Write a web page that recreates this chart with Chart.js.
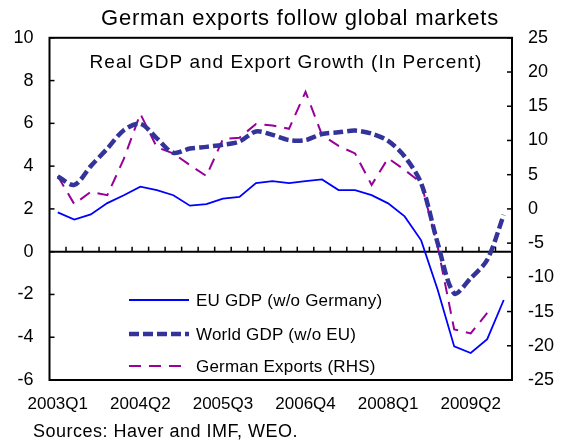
<!DOCTYPE html>
<html>
<head>
<meta charset="utf-8">
<script src="https://cdn.jsdelivr.net/npm/chart.js@4.4.1/dist/chart.umd.min.js"></script>
<style>
  html, body { margin: 0; padding: 0; background: #fff; }
  #wrap { width: 564px; height: 444px; }
</style>
</head>
<body>
<div id="wrap"><canvas id="chart" width="564" height="444"></canvas></div>
<script>
// Quarters 2003Q1 .. 2009Q4
const quarters = [
  "2003Q1", "2003Q2", "2003Q3", "2003Q4",
  "2004Q1", "2004Q2", "2004Q3", "2004Q4",
  "2005Q1", "2005Q2", "2005Q3", "2005Q4",
  "2006Q1", "2006Q2", "2006Q3", "2006Q4",
  "2007Q1", "2007Q2", "2007Q3", "2007Q4",
  "2008Q1", "2008Q2", "2008Q3", "2008Q4",
  "2009Q1", "2009Q2", "2009Q3", "2009Q4"
];
// labels shown under the axis
const shownQuarters = ["2003Q1", "2004Q2", "2005Q3", "2006Q4", "2008Q1", "2009Q2"];

// left axis, percent
const euGdp = [
  1.84, 1.50, 1.74, 2.27, 2.64, 3.04, 2.88, 2.64,
  2.15, 2.22, 2.48, 2.56, 3.21, 3.30, 3.21, 3.30,
  3.38, 2.88, 2.88, 2.64, 2.26, 1.65, 0.53, -1.78,
  -4.43, -4.74, -4.09, -2.26
];
const worldGdp = [
  3.52, 3.12, 4.00, 4.82, 5.68, 5.98, 5.30, 4.62,
  4.82, 4.90, 5.00, 5.15, 5.62, 5.46, 5.22, 5.22,
  5.50, 5.58, 5.66, 5.52, 5.18, 4.45, 3.20, 0.40,
  -1.95, -1.24, -0.38, 1.72
];
// right axis, percent
const germanExports = [
  4.8, 0.7, 2.5, 2.0, 7.3, 13.9, 9.0, 8.1,
  6.4, 4.8, 10.2, 10.4, 12.4, 12.2, 11.7, 17.1,
  10.8, 9.2, 8.1, 3.5, 7.4, 5.7, 3.8, -5.5,
  -17.6, -18.2, -15.2, null
];

const leftTicks = { min: -6, max: 10, step: 2 };
const rightTicks = { min: -25, max: 25, step: 5 };

const FONT = "'Liberation Sans', Arial, sans-serif";

// box, zero line with quarter ticks, inward y ticks
const frame = {
  id: "frame",
  beforeDatasetsDraw(chart) {
    const { ctx, chartArea: a, scales: { x, y, y2 } } = chart;
    const seg = (x1, y1, x2, y2_) => {
      ctx.beginPath(); ctx.moveTo(x1, y1); ctx.lineTo(x2, y2_); ctx.stroke();
    };
    ctx.save();
    ctx.strokeStyle = "#000";
    ctx.lineWidth = 2;
    ctx.strokeRect(a.left, a.top, a.right - a.left, a.bottom - a.top);
    const y0 = y.getPixelForValue(0);
    seg(a.left, y0, a.right, y0);
    ctx.lineWidth = 1.5;
    for (let i = 1; i < quarters.length; i++) {
      const bx = (x.getPixelForValue(i - 1) + x.getPixelForValue(i)) / 2;
      seg(bx, y0, bx, y0 - 5);
    }
    y.ticks.forEach(t => {
      const p = y.getPixelForValue(t.value);
      seg(a.left, p, a.left + 5, p);
    });
    y2.ticks.forEach(t => {
      const p = y2.getPixelForValue(t.value);
      seg(a.right - 5, p, a.right, p);
    });
    ctx.restore();
  },
  afterDraw(chart) {
    const { ctx } = chart;
    ctx.save();
    ctx.fillStyle = "#000";
    ctx.textBaseline = "alphabetic";
    ctx.textAlign = "center";
    ctx.font = "22px " + FONT;
    ctx.letterSpacing = "0.8px";
    ctx.fillText("German exports follow global markets", 300, 25);
    ctx.font = "19px " + FONT;
    ctx.letterSpacing = "1px";
    ctx.fillText("Real GDP and Export Growth (In Percent)", 286, 68);
    ctx.textAlign = "left";
    ctx.font = "18px " + FONT;
    ctx.letterSpacing = "0.5px";
    ctx.fillText("Sources: Haver and IMF, WEO.", 33, 437);

    // legend inside the plot
    const rows = [300, 334, 366];
    ctx.font = "17px " + FONT;
    ctx.letterSpacing = "0.2px";
    ctx.textBaseline = "middle";
    chart.data.datasets.forEach((ds, i) => {
      ctx.strokeStyle = ds.borderColor;
      ctx.lineWidth = ds.borderWidth;
      ctx.setLineDash(ds.borderDash || []);
      ctx.beginPath();
      ctx.moveTo(129, rows[i]);
      ctx.lineTo(189, rows[i]);
      ctx.stroke();
      ctx.setLineDash([]);
      ctx.fillText(ds.label, 196, rows[i] + 1);
    });
    ctx.restore();
  }
};

new Chart(document.getElementById("chart"), {
  type: "line",
  data: {
    labels: quarters,
    datasets: [
      {
        label: "EU GDP (w/o Germany)",
        data: euGdp,
        yAxisID: "y",
        borderColor: "#0000ff",
        borderWidth: 1.8,
        pointRadius: 0,
        tension: 0
      },
      {
        label: "World GDP (w/o EU)",
        data: worldGdp,
        yAxisID: "y",
        borderColor: "#333399",
        borderWidth: 4.5,
        borderDash: [10, 4],
        pointRadius: 0,
        tension: 0.3
      },
      {
        label: "German Exports (RHS)",
        data: germanExports,
        yAxisID: "y2",
        borderColor: "#990099",
        borderWidth: 2,
        borderDash: [12, 8],
        pointRadius: 0,
        tension: 0
      }
    ]
  },
  options: {
    responsive: false,
    animation: false,
    layout: { padding: { top: 37.8, left: 0, right: 0, bottom: 0 } },
    plugins: { legend: { display: false }, tooltip: { enabled: false } },
    scales: {
      x: {
        offset: true,
        grid: { display: false, drawTicks: false },
        border: { display: false },
        afterFit: s => { s.height = 64; },
        ticks: {
          autoSkip: false,
          maxRotation: 0,
          padding: 14,
          color: "#000",
          font: { family: FONT, size: 17 },
          callback: (v, i) => shownQuarters.includes(quarters[i]) ? quarters[i] : ""
        }
      },
      y: {
        position: "left",
        min: leftTicks.min,
        max: leftTicks.max,
        grid: { display: false, drawTicks: false },
        border: { display: false },
        afterFit: s => { s.width = 49.5; },
        ticks: { stepSize: leftTicks.step, padding: 16, color: "#000", font: { family: FONT, size: 18 } }
      },
      y2: {
        position: "right",
        min: rightTicks.min,
        max: rightTicks.max,
        grid: { display: false, drawTicks: false },
        border: { display: false },
        afterFit: s => { s.width = 52; },
        ticks: { stepSize: rightTicks.step, padding: 16, color: "#000", font: { family: FONT, size: 18 } }
      }
    }
  },
  plugins: [frame]
});
</script>
</body>
</html>
